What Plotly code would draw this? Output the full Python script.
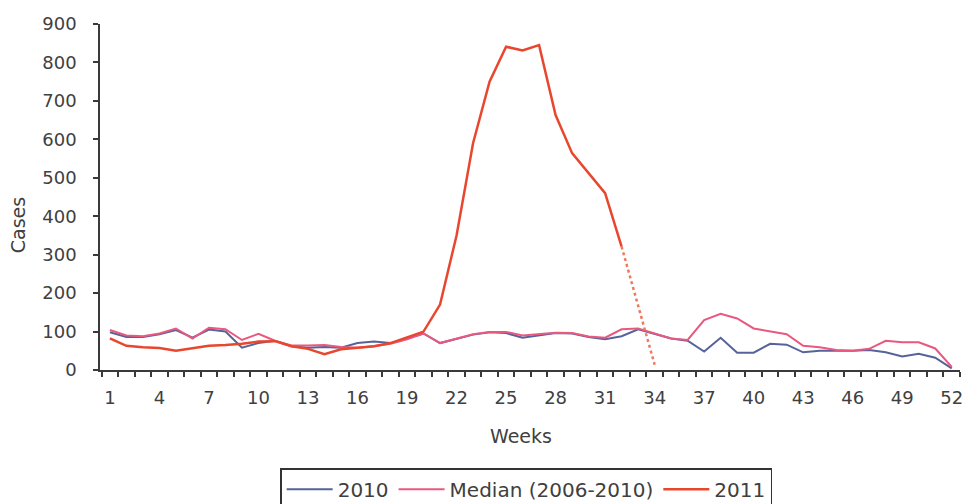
import plotly.graph_objects as go

weeks = list(range(1, 53))

cases_2010 = [98, 86, 86, 93, 104, 84, 105, 100, 58, 70,
              76, 62, 58, 60, 58, 70, 74, 70, 82, 95,
              70, 82, 92, 98, 96, 84, 90, 96, 95, 86,
              80, 88, 106, 95, 82, 76, 48, 84, 45, 45,
              68, 66, 46, 50, 50, 50, 52, 46, 35, 42,
              32, 4]

median_2006_2010 = [104, 90, 88, 95, 108, 82, 110, 106, 78, 94,
                    76, 64, 64, 65, 60, 58, 62, 68, 80, 95,
                    70, 82, 93, 99, 99, 90, 93, 97, 96, 87,
                    84, 106, 108, 95, 82, 78, 130, 146, 134, 108,
                    100, 93, 63, 59, 52, 50, 55, 76, 72, 72,
                    56, 8]

weeks_2011 = list(range(1, 33))
cases_2011 = [82, 63, 59, 57, 50, 56, 63, 65, 68, 74,
              75, 62, 55, 41, 54, 58, 62, 70, 84, 100,
              170, 350, 590, 750, 841, 831, 845, 663, 564, 512,
              460, 321]

weeks_2011_prov = [32, 33, 34]
cases_2011_prov = [321, 170, 14]

x_tick_labels = list(range(1, 53, 3))
y_tick_vals = list(range(0, 901, 100))

c2010 = "#55639A"
cmed = "#E8587F"
c2011 = "#E8472E"
txt = "#404040"
axc = "#3a3a3a"
FONT = "DejaVu Sans"

fig = go.Figure()
fig.add_trace(go.Scatter(x=weeks, y=cases_2010, mode="lines", name="2010",
                         line=dict(color=c2010, width=2)))
fig.add_trace(go.Scatter(x=weeks, y=median_2006_2010, mode="lines", name="Median (2006-2010)",
                         line=dict(color=cmed, width=2)))
fig.add_trace(go.Scatter(x=weeks_2011, y=cases_2011, mode="lines", name="2011",
                         line=dict(color=c2011, width=2.5)))
fig.add_trace(go.Scatter(x=weeks_2011_prov, y=cases_2011_prov, mode="lines", showlegend=False,
                         line=dict(color="#EE7A5E", width=2.5, dash="dot")))

fig.update_layout(
    width=969, height=504,
    margin=dict(l=100, r=6, t=24, b=134),
    paper_bgcolor="white", plot_bgcolor="white",
    font=dict(family=FONT, color=txt, size=18),
    showlegend=True,
    legend=dict(orientation="h", xref="container", yref="container",
                x=0.543, xanchor="center", y=0.071, yanchor="top",
                bordercolor="#333333", borderwidth=1.5, font=dict(size=20, color=txt),
                itemwidth=46, bgcolor="white"),
    annotations=[
        dict(text="Cases", x=-0.0951, y=0.419, xref="paper", yref="paper",
             xanchor="center", yanchor="middle",
             textangle=-90, showarrow=False, font=dict(size=19, color=txt)),
        dict(text="Weeks", x=0.489, y=-0.19, xref="paper", yref="paper",
             xanchor="center", yanchor="middle",
             showarrow=False, font=dict(size=19, color=txt)),
    ],
)

fig.update_xaxes(range=[0.4, 52.5], tickmode="array", tickvals=x_tick_labels,
                 ticktext=[str(v) for v in x_tick_labels], ticks="",
                 showline=True, linecolor=axc, linewidth=1.5, showgrid=False, zeroline=False,
                 ticklabelstandoff=11, tickfont=dict(size=18, color=txt),
                 minor=dict(tick0=0.5, dtick=1, ticks="outside", ticklen=5,
                            tickcolor=axc, tickwidth=1.5, showgrid=False))
fig.update_yaxes(range=[0, 900], tickmode="array", tickvals=y_tick_vals,
                 ticks="outside", ticklen=5, tickcolor=axc, tickwidth=1.5,
                 showline=True, linecolor=axc, linewidth=1.5, showgrid=False, zeroline=False,
                 ticklabelstandoff=13, tickfont=dict(size=18, color=txt))

fig.write_html("out.html", config={"displayModeBar": False},
               post_script="document.body.style.margin='0';document.body.style.overflow='hidden';")
